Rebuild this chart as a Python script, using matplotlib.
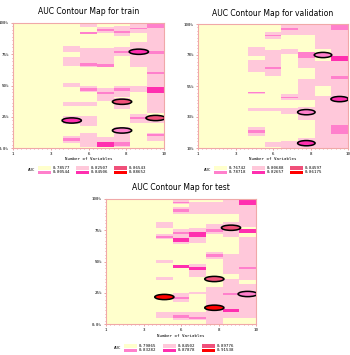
import numpy as np
import matplotlib
matplotlib.use("Agg")
import matplotlib.pyplot as plt
from matplotlib.patches import Ellipse, Rectangle

W, H = 350, 355

# level colours: yellow, light pink, pink, magenta, rose, red
colors = ['#FFFFCC', '#FFC8DA', '#FF80CC', '#FF2FAF', '#F0507A', '#FF0000']
legend_lvls = [0, 2, 1, 3, 4, 5]

# ---- train ----
train_col = [4, 4, 4, 4, 4, 4, 4,
             5, 5, 5, 5, 5, 5, 5, 5, 5,
             6, 6, 6, 6, 6, 6, 6, 6,
             7, 7, 7, 7, 7, 7, 7, 7, 7,
             8, 8, 8, 8, 8, 8,
             9, 9, 9, 9, 9, 9, 9, 9]
train_lo = [77, 66, 49, 34, 19, 4, 6,
            97, 91, 65, 66, 45, 46, 34, 18, 1,
            92, 94, 65, 65, 38, 43, 1, 5,
            90, 92, 74, 76, 41, 46, 31, 1, 2,
            92, 95, 65, 45, 20, 23,
            28, 96, 59, 44, 75, 6, 10, 20]
train_hi = [82, 73, 52, 37, 26, 10, 8,
            100, 93, 80, 68, 50, 48, 37, 26, 12,
            97, 95, 80, 67, 48, 45, 5, 9,
            98, 94, 81, 78, 50, 48, 40, 17, 5,
            100, 96, 85, 50, 27, 25,
            96, 100, 61, 49, 78, 12, 11, 26]
train_lvl = [1, 1, 1, 1, 1, 1, 2,
             1, 2, 1, 2, 1, 2, 1, 1, 1,
             1, 2, 1, 2, 1, 2, 3, 1,
             1, 2, 1, 2, 1, 2, 1, 1, 2,
             1, 2, 1, 1, 1, 2,
             1, 2, 2, 3, 2, 1, 2, 1]
train_ell_x = [4.5, 7.5, 7.5, 8.5, 9.5]
train_ell_y = [22, 37, 14, 77, 24]
train_ell_lvl = [3, 4, 2, 3, 4]
train_leg = ['0.78577', '0.80544', '0.82507', '0.84506', '0.86543', '0.88652']

# ---- validation ----
val_col = [4, 4, 4, 4, 4, 4, 4,
           5, 5, 5, 5, 5, 5,
           6, 6, 6, 6, 6, 6, 6,
           7, 7, 7, 7, 7, 7,
           8, 8, 8,
           9, 9, 9, 9, 9]
val_lo = [77, 65, 49, 50, 37, 19, 21,
          89, 91, 62, 67, 37, 11,
          92, 96, 78, 45, 46, 35, 10,
          92, 75, 68, 45, 30, 10,
          82, 55, 10,
          96, 10, 73, 60, 20]
val_hi = [83, 74, 51, 51, 39, 25, 23,
          94, 92, 81, 69, 39, 14,
          99, 97, 82, 49, 47, 39, 15,
          99, 80, 75, 60, 40, 17,
          99, 73, 48,
          100, 96, 77, 62, 27]
val_lvl = [1, 1, 1, 2, 1, 1, 2,
           1, 2, 1, 2, 1, 1,
           1, 2, 1, 1, 2, 1, 1,
           1, 2, 1, 1, 1, 1,
           1, 1, 1,
           2, 1, 3, 2, 2]
val_ell_x = [7.5, 7.5, 8.5, 9.5]
val_ell_y = [36, 13.5, 77.5, 45.5]
val_ell_lvl = [2, 3, 2, 3]
val_leg = ['0.76742', '0.78718', '0.80688', '0.82657', '0.84597', '0.86175']

# ---- test ----
test_col = [4, 4, 4, 4, 4, 4,
            5, 5, 5, 5, 5, 5, 5, 5, 5, 5, 5, 5,
            6, 6, 6, 6, 6, 6, 6, 6,
            7, 7, 7, 7, 7, 7,
            8, 8, 8, 8, 8, 8, 8,
            9, 9, 9, 9, 9, 9, 9]
test_lo = [77, 68, 69, 49, 35, 5,
           96, 97, 88, 90, 64, 72, 66, 45, 18, 20, 3, 5,
           88, 65, 70, 38, 43, 24, 3, 4,
           88, 72, 74, 52, 54, 0,
           88, 70, 40, 29, 5, 23, 10,
           78, 35, 5, 95, 73, 44, 62]
test_hi = [82, 72, 70.5, 51, 38, 10,
           100, 98, 94, 92, 76, 74, 69, 47, 25, 22, 10, 7,
           98, 77, 74, 48, 46, 26, 10, 6,
           98, 80, 76, 58, 56, 30,
           99, 82, 56, 36, 30, 25, 12,
           100, 62, 32, 99, 76, 46, 70]
test_lvl = [1, 1, 2, 1, 1, 1,
            1, 2, 1, 2, 1, 2, 3, 3, 1, 2, 1, 2,
            1, 1, 3, 1, 3, 1, 1, 2,
            1, 1, 2, 1, 2, 1,
            1, 1, 1, 1, 1, 2, 3,
            1, 1, 1, 3, 3, 2, 1]
test_ell_x = [4.5, 7.5, 7.5, 8.5, 9.5]
test_ell_y = [21.6, 36, 13, 77, 24]
test_ell_lvl = [5, 4, 5, 4, 2]
test_leg = ['0.79865', '0.83282', '0.84502', '0.87878', '0.89776', '0.91538']

x_ticks = [1, 3.25, 5.5, 7.75, 10]
x_labels = ['1', '3', '6', '8', '10']


def box(l, t, r, b):
    return [l / W, 1 - b / H, (r - l) / W, (b - t) / H]


def panel(rect, title, cols, lo, hi, lvl, ex, ey, elvl, ymin, ylabels, ell_w, ell_h, leg, leg_pos, xlab_y):
    ax = fig.add_axes(box(*rect))
    ax.set_facecolor(colors[0])
    order = np.argsort(lvl, kind='stable')
    for i in order:
        ax.bar(cols[i], hi[i] - lo[i], bottom=lo[i], width=1, align='edge',
               color=colors[lvl[i]], linewidth=0)
    for x, y, l in zip(ex, ey, elvl):
        ax.add_patch(Ellipse((x, y), ell_w, ell_h, facecolor=colors[l],
                             edgecolor='black', linewidth=1.1, zorder=5))
    ax.set_xlim(1, 10)
    ax.set_ylim(ymin, 100)
    ax.set_xticks(x_ticks)
    ax.set_xticklabels(x_labels)
    yt = np.linspace(ymin, 100, 5)
    ax.set_yticks(yt)
    ax.set_yticklabels(ylabels)
    ax.set_xticks(np.linspace(1, 10, 37), minor=True)
    ax.set_yticks(np.linspace(ymin, 100, 37), minor=True)
    ax.tick_params(which='both', color='#E08080', labelsize=3, length=1.5, width=0.5, pad=1.5)
    ax.tick_params(which='minor', length=1)
    for lab in ax.get_xticklabels() + ax.get_yticklabels():
        lab.set_family('DejaVu Sans Mono')
    for s in ax.spines.values():
        s.set_color('#F0A8A8')
        s.set_linewidth(0.8)
    l, t, r, b = rect
    fig.text(((l + r) / 2) / W, 1 - (t - 11) / H, title, ha='center', va='center', fontsize=5.5)
    fig.text(((l + r) / 2) / W, 1 - xlab_y / H, 'Number of Variables', ha='center', va='center',
             fontsize=3, family='DejaVu Sans Mono')
    # legend
    lx, ly, sw = leg_pos
    fig.text(lx / W, 1 - (ly + 4) / H, 'AUC', ha='center', va='center', fontsize=3,
             family='DejaVu Sans Mono')
    for k in range(6):
        c, r_ = divmod(k, 2)
        x0 = lx + 6 + c * sw
        y0 = ly + r_ * 4.5
        fig.add_artist(Rectangle((x0 / W, 1 - (y0 + 3.6) / H), 13 / W, 3.6 / H,
                                 transform=fig.transFigure, facecolor=colors[legend_lvls[k]],
                                 edgecolor='none'))
        fig.text((x0 + 15) / W, 1 - (y0 + 1.8) / H, leg[k], ha='left', va='center',
                 fontsize=3, family='DejaVu Sans Mono')
    return ax


fig = plt.figure(figsize=(3.5, 3.55), dpi=100)

panel((13, 23, 164, 148), 'AUC Contour Map for train', train_col, train_lo, train_hi, train_lvl,
      train_ell_x, train_ell_y, train_ell_lvl, 0, ['0.0%', '25%', '50%', '75%', '100%'],
      1.15, 4.2, train_leg, (32, 166, 38), 159)
panel((198, 24, 348, 148), 'AUC Contour Map for validation', val_col, val_lo, val_hi, val_lvl,
      val_ell_x, val_ell_y, val_ell_lvl, 10, ['10%', '33%', '55%', '78%', '100%'],
      1.05, 3.8, val_leg, (208, 166, 38), 159)
panel((106, 199, 256, 324), 'AUC Contour Map for test', test_col, test_lo, test_hi, test_lvl,
      test_ell_x, test_ell_y, test_ell_lvl, 0, ['0.0%', '25%', '50%', '75%', '100%'],
      1.15, 4.2, test_leg, (118, 344, 39), 336)

fig.savefig('out.png', dpi=100)
